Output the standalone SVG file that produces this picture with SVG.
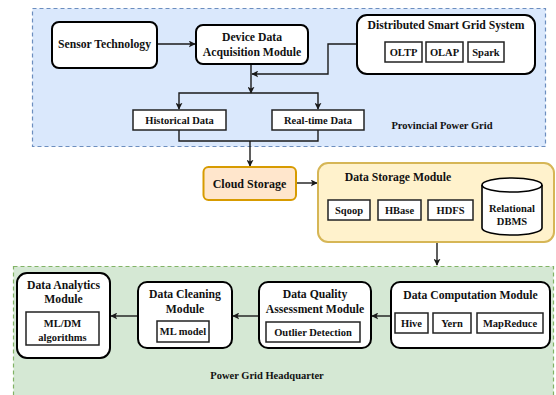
<svg xmlns="http://www.w3.org/2000/svg" width="556" height="395" viewBox="0 0 556 395">
  <defs>
    <marker id="arrow" viewBox="0 0 10 10" refX="9" refY="5" markerWidth="7" markerHeight="7" markerUnits="userSpaceOnUse" orient="auto">
      <path d="M0,0 L10,5 L0,10 L2.5,5 Z" fill="#1a1a1a"/>
    </marker>
  </defs>
  <style>
    text { font-family: "Liberation Serif", "Times New Roman", serif; font-weight: bold; fill: #111; text-anchor: middle; }
    .t { font-size: 11.7px; }
    .s { font-size: 10.5px; }
    .node { fill: #ffffff; stroke: #000; stroke-width: 2; }
    .inner { fill: #ffffff; stroke: #222; stroke-width: 1.5; }
    .edge { fill: none; stroke: #1a1a1a; stroke-width: 1.4; }
  </style>

  <!-- regions -->
  <g id="provincial-grid">
    <rect x="32.5" y="8.5" width="513" height="138" fill="#dae8fc" stroke="#6c8ebf" stroke-width="1.2" stroke-dasharray="4 3"/>
    <text class="s" x="442" y="129">Provincial Power Grid</text>
  </g>
  <g id="headquarter">
    <rect x="13.5" y="266.5" width="540" height="130" fill="#d5e8d4" stroke="#82b366" stroke-width="1.2" stroke-dasharray="4 3"/>
    <text class="s" x="267" y="379">Power Grid Headquarter</text>
  </g>

  <!-- connectors -->
  <g id="connectors">
    <path class="edge" d="M157,44 H195" marker-end="url(#arrow)"/>
    <path class="edge" d="M357,44 H328 V74 H252" marker-end="url(#arrow)"/>
    <path class="edge" d="M251,64 V93" marker-end="url(#arrow)"/>
    <path class="edge" d="M251,93 H179 V109" marker-end="url(#arrow)"/>
    <path class="edge" d="M251,93 H318 V109" marker-end="url(#arrow)"/>
    <path class="edge" d="M179,130 V141 H318 V130"/>
    <path class="edge" d="M250,141 V166" marker-end="url(#arrow)"/>
    <path class="edge" d="M296,183 H317" marker-end="url(#arrow)"/>
    <path class="edge" d="M437,242 V265" marker-end="url(#arrow)"/>
    <path class="edge" d="M391,316 H372" marker-end="url(#arrow)"/>
    <path class="edge" d="M259,316 H233" marker-end="url(#arrow)"/>
    <path class="edge" d="M138,316 H111" marker-end="url(#arrow)"/>
  </g>

  <!-- nodes -->
  <g id="sensor-technology">
    <rect class="node" x="52" y="22" width="105" height="46" rx="7"/>
    <text class="t" x="104.5" y="48">Sensor Technology</text>
  </g>

  <g id="device-data-acquisition">
    <rect class="node" x="196" y="25" width="112" height="39" rx="7"/>
    <text class="t" x="252" y="41">Device Data</text>
    <text class="t" x="252" y="56">Acquisition Module</text>
  </g>

  <g id="distributed-smart-grid">
    <rect class="node" x="357" y="15" width="178" height="59" rx="10"/>
    <text class="t" x="446" y="29">Distributed Smart Grid System</text>
    <rect class="inner" x="385" y="42" width="37" height="20"/>
    <text class="s" x="403.5" y="56">OLTP</text>
    <rect class="inner" x="426" y="42" width="37" height="20"/>
    <text class="s" x="444.5" y="56">OLAP</text>
    <rect class="inner" x="468" y="42" width="36" height="20"/>
    <text class="s" x="486" y="56">Spark</text>
  </g>

  <g id="historical-data">
    <rect class="inner" x="133" y="110" width="93" height="20"/>
    <text class="s" x="179.5" y="124">Historical Data</text>
  </g>

  <g id="real-time-data">
    <rect class="inner" x="272" y="110" width="92" height="20"/>
    <text class="s" x="318" y="124">Real-time Data</text>
  </g>

  <g id="cloud-storage">
    <rect x="203.5" y="167" width="92.5" height="33" rx="5" fill="#ffe6cc" stroke="#d79b00" stroke-width="2"/>
    <text x="249.5" y="187.5" style="font-size:12px">Cloud Storage</text>
  </g>

  <g id="data-storage">
    <rect x="318" y="163" width="236" height="79" rx="10" fill="#fff2cc" stroke="#d6b656" stroke-width="2"/>
    <text class="t" x="398" y="181">Data Storage Module</text>
    <rect class="inner" x="328" y="200" width="42" height="20"/>
    <text class="s" x="349" y="214">Sqoop</text>
    <rect class="inner" x="378" y="200" width="43" height="20"/>
    <text class="s" x="399.5" y="214">HBase</text>
    <rect class="inner" x="428" y="200" width="45" height="20"/>
    <text class="s" x="450.5" y="214">HDFS</text>
    <path d="M482,185 A30,7 0 0 1 542,185 V228 A30,7 0 0 1 482,228 Z" fill="#fff" stroke="#000" stroke-width="1.6"/>
    <path d="M482,185 A30,7 0 0 0 542,185" fill="none" stroke="#000" stroke-width="1.6"/>
    <text class="s" x="512" y="212">Relational</text>
    <text class="s" x="512" y="225">DBMS</text>
  </g>

  <g id="data-computation">
    <rect class="node" x="391" y="282" width="159" height="66" rx="9"/>
    <text class="t" x="470.5" y="299">Data Computation Module</text>
    <rect class="inner" x="395" y="313" width="33" height="20"/>
    <text class="s" x="411.5" y="327">Hive</text>
    <rect class="inner" x="433" y="313" width="38" height="20"/>
    <text class="s" x="452" y="327">Yern</text>
    <rect class="inner" x="477" y="313" width="66" height="20"/>
    <text class="s" x="510" y="327">MapReduce</text>
  </g>

  <g id="data-quality">
    <rect class="node" x="259" y="282" width="112" height="66" rx="9"/>
    <text class="t" x="315" y="298">Data Quality</text>
    <text class="t" x="315" y="313">Assessment Module</text>
    <rect class="inner" x="266" y="322" width="94" height="20"/>
    <text class="s" x="313" y="336">Outlier Detection</text>
  </g>

  <g id="data-cleaning">
    <rect class="node" x="138" y="282" width="94" height="66" rx="9"/>
    <text class="t" x="185" y="298">Data Cleaning</text>
    <text class="t" x="185" y="313">Module</text>
    <rect class="inner" x="157" y="321" width="52" height="21"/>
    <text class="s" x="183" y="335">ML model</text>
  </g>

  <g id="data-analytics">
    <rect class="node" x="17" y="273" width="93" height="85" rx="10"/>
    <text class="t" x="63.5" y="289">Data Analytics</text>
    <text class="t" x="63.5" y="303">Module</text>
    <rect class="inner" x="26" y="312" width="73" height="33"/>
    <text class="s" x="62.5" y="327">ML/DM</text>
    <text class="s" x="62.5" y="341">algorithms</text>
  </g>
</svg>
